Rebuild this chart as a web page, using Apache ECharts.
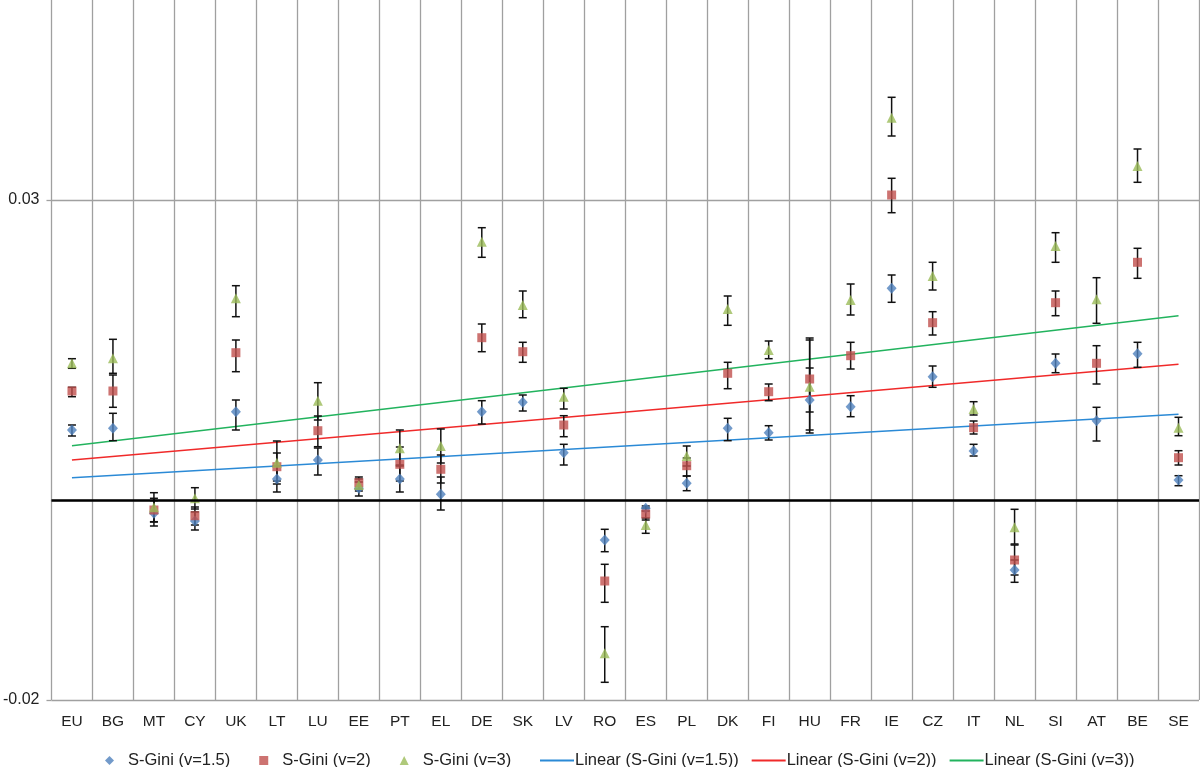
<!DOCTYPE html>
<html>
<head>
<meta charset="utf-8">
<script src="https://cdn.jsdelivr.net/npm/echarts@6/dist/echarts.min.js"></script>
<style>
  html, body { margin: 0; padding: 0; background: #fff; }
  #chart { width: 1200px; height: 767px; }
</style>
</head>
<body>
<div id="chart"></div>
<script>
const categories = ['EU','BG','MT','CY','UK','LT','LU','EE','PT','EL','DE','SK','LV','RO','ES','PL','DK','FI','HU','FR','IE','CZ','IT','NL','SI','AT','BE','SE'];

const gini15 = [0.0070, 0.00717, -0.00133, -0.0021, 0.00883, 0.0021, 0.0040, 0.00117, 0.0021, 0.00057, 0.00883, 0.00977, 0.00473, -0.0040, -0.00083, 0.00167, 0.00717, 0.00673, 0.0100, 0.00933, 0.02117, 0.01233, 0.0049, -0.0070, 0.01367, 0.00793, 0.01463, 0.0020];
const gini15Low = [0.0064, 0.00593, -0.0026, -0.0030, 0.0070, 0.0008, 0.0025, 0.0004, 0.0008, -0.0010, 0.0076, 0.0089, 0.0035, -0.00517, -0.0011, 0.00093, 0.00593, 0.0060, 0.0070, 0.00833, 0.01977, 0.01127, 0.0044, -0.00823, 0.01273, 0.0059, 0.01327, 0.00143];
const gini15High = [0.0075, 0.00867, -0.00006, -0.0012, 0.0100, 0.0034, 0.0052, 0.0018, 0.0035, 0.0023, 0.00993, 0.0105, 0.00557, -0.00293, -0.0006, 0.0024, 0.00817, 0.00743, 0.0132, 0.01043, 0.0225, 0.0134, 0.00557, -0.0060, 0.0146, 0.00927, 0.01577, 0.00243];

const gini2 = [0.0109, 0.0109, -0.0010, -0.00157, 0.01473, 0.00333, 0.00693, 0.00173, 0.00357, 0.00307, 0.01623, 0.01483, 0.0075, -0.0081, -0.0014, 0.00343, 0.01267, 0.01083, 0.0121, 0.01443, 0.0305, 0.01773, 0.00723, -0.0060, 0.01973, 0.01367, 0.02377, 0.00423];
const gini2Low = [0.01033, 0.00927, -0.00217, -0.0025, 0.01283, 0.0019, 0.00533, 0.0011, 0.0019, 0.0017, 0.01483, 0.01377, 0.00633, -0.01023, -0.0020, 0.0024, 0.01113, 0.00993, 0.0088, 0.0131, 0.02873, 0.0165, 0.0066, -0.0075, 0.01843, 0.0116, 0.02217, 0.0035];
const gini2High = [0.01127, 0.0125, 0.00017, -0.0007, 0.0160, 0.0047, 0.0084, 0.0023, 0.0053, 0.0045, 0.0176, 0.01577, 0.00843, -0.00643, -0.0008, 0.0042, 0.01377, 0.0116, 0.0162, 0.01577, 0.03217, 0.01883, 0.0079, -0.0045, 0.0209, 0.01543, 0.02517, 0.00493];

const gini3 = [0.01367, 0.01417, -0.00073, 0.00017, 0.02017, 0.00373, 0.00993, 0.0015, 0.00517, 0.0054, 0.02583, 0.0195, 0.01033, -0.01533, -0.0025, 0.0044, 0.0191, 0.0150, 0.01133, 0.0200, 0.03823, 0.0224, 0.0091, -0.00273, 0.0254, 0.02007, 0.0334, 0.00723];
const gini3Low = [0.01317, 0.01267, -0.0022, -0.0009, 0.01833, 0.0016, 0.0080, 0.0009, 0.0034, 0.0037, 0.02427, 0.01823, 0.0091, -0.01823, -0.00333, 0.0034, 0.01747, 0.01413, 0.0067, 0.0185, 0.0364, 0.0210, 0.0085, -0.0044, 0.02377, 0.01767, 0.03177, 0.00643];
const gini3High = [0.01413, 0.01607, 0.00073, 0.00123, 0.02143, 0.0059, 0.01173, 0.0021, 0.0070, 0.0071, 0.02723, 0.0209, 0.01117, -0.01267, -0.0018, 0.0054, 0.0204, 0.0159, 0.0160, 0.0216, 0.04027, 0.02377, 0.00983, -0.00093, 0.02673, 0.02223, 0.0351, 0.00827];

// Trend line end values (at first and last category)
const trend15 = [0.00223, 0.00857];
const trend2 = [0.0040, 0.01357];
const trend3 = [0.00543, 0.01843];

const seriesNames = ['S-Gini (v=1.5)', 'S-Gini (v=2)', 'S-Gini (v=3)'];
const trendNames = ['Linear (S-Gini (v=1.5))', 'Linear (S-Gini (v=2))', 'Linear (S-Gini (v=3))'];

const FONT = "'Liberation Sans', Arial, Helvetica, sans-serif";
const GRID_COLOR = '#a0a0a0';
const TEXT_COLOR = '#222';
const LINE_ICON = 'path://M0,0L34,0L34,2L0,2Z';

function errData(lo, hi) {
  return lo.map((v, i) => [i, v, hi[i]]);
}

function errorBarSeries(lo, hi) {
  return {
    type: 'custom',
    silent: true,
    z: 3,
    encode: { x: 0, y: [1, 2] },
    data: errData(lo, hi),
    renderItem: function (params, api) {
      const x = api.value(0);
      const top = api.coord([x, api.value(2)]);
      const bot = api.coord([x, api.value(1)]);
      const hw = 4;
      const style = { stroke: '#111', lineWidth: 1.5 };
      return {
        type: 'group',
        children: [
          { type: 'line', shape: { x1: top[0], y1: top[1], x2: bot[0], y2: bot[1] }, style: style },
          { type: 'line', shape: { x1: top[0] - hw, y1: top[1], x2: top[0] + hw, y2: top[1] }, style: style },
          { type: 'line', shape: { x1: bot[0] - hw, y1: bot[1], x2: bot[0] + hw, y2: bot[1] }, style: style }
        ]
      };
    }
  };
}

function trendSeries(name, ends, color, withZero) {
  const s = {
    name: name,
    type: 'line',
    z: 2,
    symbol: 'none',
    showSymbol: false,
    silent: true,
    lineStyle: { color: color, width: 1.5 },
    itemStyle: { color: color },
    data: [[categories[0], ends[0]], [categories[categories.length - 1], ends[1]]]
  };
  if (withZero) {
    s.markLine = {
      silent: true,
      symbol: ['none', 'none'],
      label: { show: false },
      lineStyle: { color: '#000', width: 2.5, type: 'solid' },
      data: [{ yAxis: 0 }]
    };
  }
  return s;
}

const chart = echarts.init(document.getElementById('chart'), null, { renderer: 'canvas' });

const option = {
  animation: false,
  backgroundColor: '#fff',
  textStyle: { fontFamily: FONT },
  grid: { left: 50, right: 1, top: 0, bottom: 67, containLabel: false },
  xAxis: {
    type: 'category',
    data: categories,
    boundaryGap: true,
    axisLine: { show: true, lineStyle: { color: GRID_COLOR, width: 1.3 } },
    axisTick: { show: false },
    splitLine: { show: true, lineStyle: { color: GRID_COLOR, width: 1.3 } },
    axisLabel: { color: TEXT_COLOR, fontSize: 15.5, fontFamily: FONT, margin: 14, interval: 0 }
  },
  yAxis: {
    type: 'value',
    min: -0.02,
    max: 0.05,
    interval: 0.05,
    axisLine: { show: false },
    axisTick: { show: true, length: 5, lineStyle: { color: GRID_COLOR, width: 1.3 } },
    splitLine: { show: true, showMaxLine: false, lineStyle: { color: GRID_COLOR, width: 1.3 } },
    axisLabel: {
      color: TEXT_COLOR, fontSize: 16, fontFamily: FONT, margin: 12,
      showMaxLabel: false,
      formatter: function (v) { return (Math.round(v * 100) / 100).toFixed(2); }
    }
  },
  legend: [
    {
      left: 100,
      top: 747,
      itemWidth: 9,
      itemHeight: 9,
      itemGap: 29,
      textStyle: { color: TEXT_COLOR, fontSize: 16.5, fontFamily: FONT, padding: [0, 0, 0, 9] },
      data: [
        { name: seriesNames[0], icon: 'diamond' },
        { name: seriesNames[1], icon: 'rect' },
        { name: seriesNames[2], icon: 'triangle' }
      ],
      selectedMode: false
    },
    {
      left: 535,
      top: 747,
      itemWidth: 34,
      itemHeight: 2,
      itemGap: 13,
      textStyle: { color: TEXT_COLOR, fontSize: 16.5, fontFamily: FONT, padding: [0, 0, 0, -4] },
      data: trendNames.map(n => ({ name: n, icon: LINE_ICON })),
      selectedMode: false
    }
  ],
  series: [
    trendSeries(trendNames[0], trend15, '#2b8ad6', true),
    trendSeries(trendNames[1], trend2, '#f02a2a', false),
    trendSeries(trendNames[2], trend3, '#22b35e', false),
    errorBarSeries(gini15Low, gini15High),
    errorBarSeries(gini2Low, gini2High),
    errorBarSeries(gini3Low, gini3High),
    {
      name: seriesNames[0], type: 'scatter', z: 4, symbol: 'diamond', symbolSize: [10, 11],
      itemStyle: { color: '#4f81bd' }, data: gini15
    },
    {
      name: seriesNames[1], type: 'scatter', z: 4, symbol: 'rect', symbolSize: 9,
      itemStyle: { color: '#c0504d' }, data: gini2
    },
    {
      name: seriesNames[2], type: 'scatter', z: 4, symbol: 'triangle', symbolSize: [10, 10],
      itemStyle: { color: '#9bbb59' }, data: gini3
    }
  ]
};

chart.setOption(option);
</script>
</body>
</html>
